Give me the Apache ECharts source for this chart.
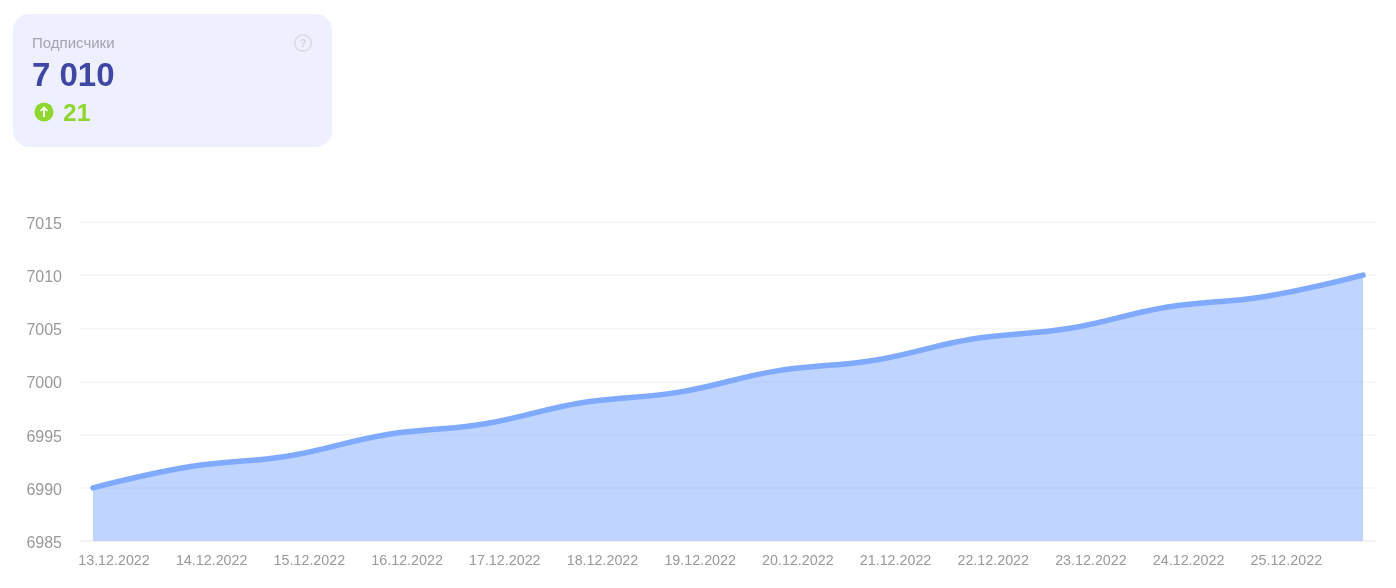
<!DOCTYPE html>
<html><head><meta charset="utf-8">
<style>html,body{margin:0;padding:0;background:#fff}#c{width:1396px;height:588px}</style>
<script src="https://cdn.jsdelivr.net/npm/echarts@6/dist/echarts.min.js"></script>
</head><body><div id="c"></div>
<script>
const categories=['13.12.2022','14.12.2022','15.12.2022','16.12.2022','17.12.2022','18.12.2022','19.12.2022','20.12.2022','21.12.2022','22.12.2022','23.12.2022','24.12.2022','25.12.2022','26.12.2022'];
const subscribers=[6990,6992,6993,6995,6996,6998,6999,7001,7002,7004,7005,7007,7008,7010];
const labelledDays=[0,1,2,3,4,5,6,7,8,9,10,11,12];
const cardTitle='Подписчики', cardValue='7 010', cardDelta='21';
const font='"Liberation Sans",Arial,sans-serif';
const chart=echarts.init(document.getElementById('c'),null,{renderer:'canvas'});
const step=(1363-93)/13;
chart.setOption({
  animation:false,
  grid:{left:80,right:20,top:222,bottom:47,containLabel:false},
  xAxis:{type:'value',min:-13/step,max:13+13/step,
    splitLine:{show:false},axisTick:{show:false},
    axisLine:{show:true,onZero:false,lineStyle:{color:'#f3f3f3',width:2}},
    axisLabel:{customValues:labelledDays,color:'#999',fontFamily:font,fontSize:14.3,margin:13,
      align:'center',padding:[0,0,0,42],
      formatter:v=>categories[Math.round(v)]}},
  yAxis:{type:'value',min:6985,max:7015,interval:5,
    axisLine:{show:false},axisTick:{show:false},
    splitLine:{lineStyle:{color:'#f4f4f4',width:1.6}},
    axisLabel:{color:'#999',fontFamily:font,fontSize:16,margin:18,verticalAlign:'top',lineHeight:5,
      formatter:v=>String(v)}},
  series:[{type:'line',data:subscribers.map((v,i)=>[i,v]),smooth:0.4,showSymbol:false,symbol:'none',
    lineStyle:{color:'#7faaff',width:5.5,cap:'round'},
    areaStyle:{color:'#7faaff',opacity:0.5},z:1}],
  graphic:[
    {type:'rect',z:10,shape:{x:13,y:14,width:319,height:133,r:16},style:{fill:'#eef0ff'}},
    {type:'text',z:11,x:32,y:36,style:{text:cardTitle,fill:'#a3a3ad',font:'15px '+font}},
    {type:'text',z:11,x:32,y:60,style:{text:cardValue,fill:'#3f46a3',font:'bold 33px '+font}},
    {type:'circle',z:11,shape:{cx:44,cy:112,r:9.5},style:{fill:'#8fd630'}},
    {type:'polyline',z:12,shape:{points:[[44,117],[44,107.5]]},style:{stroke:'#fff',lineWidth:2,fill:null}},
    {type:'polyline',z:12,shape:{points:[[40.5,111],[44,107.5],[47.5,111]]},style:{stroke:'#fff',lineWidth:1.6,fill:null}},
    {type:'text',z:11,x:63,y:102,style:{text:cardDelta,fill:'#8fd630',font:'bold 24.5px '+font}},
    {type:'circle',z:11,shape:{cx:303,cy:43,r:8.2},style:{fill:'none',stroke:'#dcdce2',lineWidth:1.8}},
    {type:'text',z:11,x:303,y:43.5,style:{text:'?',fill:'#d4d4da',font:'bold 11px '+font,align:'center',verticalAlign:'middle'}}
  ]
});
</script></body></html>
